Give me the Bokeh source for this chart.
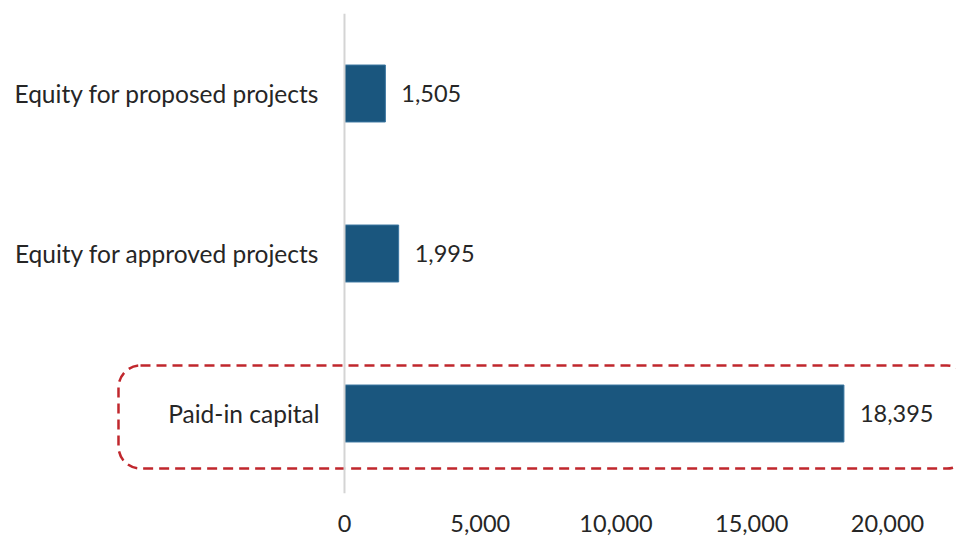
from bokeh.plotting import figure
from bokeh.models import ColumnDataSource, FixedTicker, NumeralTickFormatter, Span, Range1d
from bokeh.core.properties import value
from bokeh.embed import file_html
from bokeh.resources import INLINE

categories = ["Paid-in capital", "Equity for approved projects", "Equity for proposed projects"]
values = [18395, 1995, 1505]
labels = ["18,395", "1,995", "1,505"]
ticks = [0, 5000, 10000, 15000, 20000]

FONT = "Lato"
TXT = "#262626"
ypos = [i + 0.5 for i in range(len(categories))]

src = ColumnDataSource(dict(cat=categories, val=values, lab=labels, y=ypos, zero=[0] * len(values)))

p = figure(width=956, height=540, output_backend="svg", toolbar_location=None,
           x_range=Range1d(-12670, 22541), y_range=Range1d(0, 3),
           min_border_left=0, min_border_right=0, min_border_top=13, min_border_bottom=47)
p.outline_line_color = None
p.background_fill_color = "white"
p.border_fill_color = "white"
p.xgrid.visible = False
p.ygrid.visible = False
p.yaxis.visible = False

p.xaxis.ticker = FixedTicker(ticks=ticks)
p.xaxis.formatter = NumeralTickFormatter(format="0,0")
p.xaxis.axis_line_color = None
p.xaxis.major_tick_line_color = None
p.xaxis.minor_tick_line_color = None
p.xaxis.major_label_text_font = FONT
p.xaxis.major_label_text_font_size = "23.5px"
p.xaxis.major_label_text_color = TXT
p.xaxis.major_label_standoff = 15

p.add_layout(Span(location=0, dimension="height", line_color="#d4d4d4", line_width=2))

p.hbar(y="y", left="zero", right="val", height=0.356, source=src,
       fill_color="#1A567E", line_color="#3A76A0", line_width=1)

p.text(x="val", y="y", text="lab", source=src, x_offset=16,
       text_align="left", text_baseline="middle", text_font=value(FONT),
       text_font_size="23.5px", text_color=TXT)
p.text(x="zero", y="y", text="cat", source=src, x_offset=-25,
       text_align="right", text_baseline="middle", text_font=value(FONT),
       text_font_size="24.5px", text_color=TXT)

# highlight box around paid-in capital row
p.quad(left=[-8324], right=[23000], bottom=[0.156], top=[0.8],
       fill_color=None, line_color="#C0272D", line_width=2.5, line_dash="10 6",
       border_radius=22)

open("out.html", "w").write(file_html(p, INLINE))
